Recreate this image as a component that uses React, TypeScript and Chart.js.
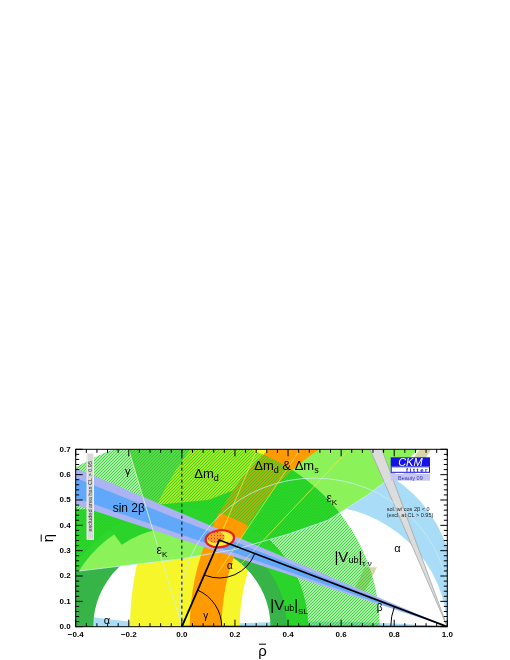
import React, { useEffect, useRef } from "react";
import { Chart, registerables } from "chart.js";

Chart.register(...registerables);

// ---------- axes ----------
const rhoRange = [-0.4, 1.0];
const etaRange = [0.0, 0.7];
const rhoTickStep = 0.2;
const etaTickStep = 0.1;

// ---------- unitarity triangle ----------
const triangleRho = [0.0, 0.141, 1.0, 0.0];
const triangleEta = [0.0, 0.342, 0.0, 0.0];
const zeroLineRho = [0.0, 0.0];
const zeroLineEta = [0.0, 0.7];

// ---------- global fit (centre rho, centre eta, half-width, half-height) ----------
const fitRegion = [0.143, 0.347, 0.058, 0.038];
const fitCore = [0.129, 0.352, 0.032, 0.021];

// ---------- alpha : circles through (0,0),(1,0) : centre rho, centre eta, radius ----------
const alphaOuterCircle = [0.5, 0.155, 0.5235];
const alphaInnerCircle = [0.5, -0.02, 0.5004];
const alphaNearZeroCircle = [0.5, 6.1, 6.1204];
const alphaNearPiCircle = [0.5, -6.2, 6.2201];
const alphaContourCircle = [0.5, 0.08, 0.5064];

// ---------- sin 2beta : angle beta (deg) seen from (1,0) ----------
const sin2betaWide = [18.96, 24.09];
const sin2betaNarrow = [19.94, 22.75];
const cos2betaNegative = [67.4, 70.6];

// ---------- gamma : polar angles (deg) from (0,0) ----------
const gammaWedge = [60, 106];
const gammaEdgeRays = [106];
const gammaRays = [48, 57.5, 68];

// ---------- |Vub| rings around (0,0) ----------
const vubSL = [0.334, 0.456];
const vubCombined = [0.395, 0.476];
const vubCombinedAngles = [0, 125];
const vubTauNu = [0.47, 0.745];
const epsKVubOverlap = [0.445, 0.745];

// ---------- Delta m rings around (1,0) ----------
const deltaMd = [0.782, 1.195];
const deltaMdMs = [0.85, 0.97];

// ---------- epsilon_K band ----------
const epsKLowerRho = [-0.45, -0.2, 0.0, 0.2, 0.4, 0.55, 0.7, 0.8, 0.89];
const epsKLowerEta = [0.212, 0.243, 0.268, 0.305, 0.365, 0.42, 0.52, 0.6, 0.7];
const epsKUpperRho = [0.33, 0.28, 0.2, 0.1, 0.0, -0.2, -0.45];
const epsKUpperEta = [0.7, 0.6, 0.54, 0.5, 0.49, 0.47, 0.46];

// ---------- pale patches ----------
const paleLowRho = [0.645, 0.69, 0.735, 0.69];
const paleLowEta = [0.14, 0.14, 0.235, 0.235];
const paleHighRho = [0.82, 0.865, 0.94, 0.895];
const paleHighEta = [0.58, 0.58, 0.7, 0.7];

const FONT = '"Liberation Sans", Arial, Helvetica, sans-serif';
const D2R = Math.PI / 180;

function fmt(v: number) {
  const r = Math.round(v * 10) / 10;
  if (r < 0) return "\u2212" + Math.abs(r).toFixed(1);
  return Math.abs(r).toFixed(1);
}

function makeHatch(fill: string, line: string) {
  const c = document.createElement("canvas");
  c.width = 3;
  c.height = 3;
  const g = c.getContext("2d")!;
  g.fillStyle = fill;
  g.fillRect(0, 0, 3, 3);
  g.strokeStyle = line;
  g.lineWidth = 0.9;
  g.beginPath();
  g.moveTo(0, 3);
  g.lineTo(3, 0);
  g.moveTo(-1, 1);
  g.lineTo(1, -1);
  g.moveTo(2, 4);
  g.lineTo(4, 2);
  g.stroke();
  return g.createPattern(c, "repeat")!;
}

function makeDots(fill: string, dot: string) {
  const c = document.createElement("canvas");
  c.width = 3;
  c.height = 3;
  const g = c.getContext("2d")!;
  g.fillStyle = fill;
  g.fillRect(0, 0, 3, 3);
  g.fillStyle = dot;
  g.fillRect(1, 1, 1, 1);
  return g.createPattern(c, "repeat")!;
}

function drawRich(ctx: CanvasRenderingContext2D, x: number, y: number, parts: any[], color = "#000") {
  let w = 0;
  for (const p of parts) {
    ctx.font = `${p[1]}px ${FONT}`;
    w += ctx.measureText(p[0]).width;
  }
  let cx = x - w / 2;
  const base = y + parts[0][1] * 0.36;
  ctx.fillStyle = color;
  ctx.textAlign = "left";
  ctx.textBaseline = "alphabetic";
  for (const p of parts) {
    ctx.font = `${p[1]}px ${FONT}`;
    ctx.fillText(p[0], cx, base + p[2]);
    cx += ctx.measureText(p[0]).width;
  }
}

const ckmPlugin = {
  id: "ckm",
  beforeDatasetsDraw(chart: any) {
    const { ctx, chartArea: a, scales } = chart;
    const X = (v: number) => scales.x.getPixelForValue(v);
    const Y = (v: number) => scales.y.getPixelForValue(v);
    const sx = X(1) - X(0);
    const sy = Y(0) - Y(1);

    const ellipse = (cx: number, cy: number, r: number) => {
      const x0 = X(cx), y0 = Y(cy);
      ctx.moveTo(x0 + r * sx, y0);
      ctx.ellipse(x0, y0, r * sx, r * sy, 0, 0, Math.PI * 2);
    };
    const ring = (cx: number, cy: number, r1: number, r2: number, style: any) => {
      ctx.beginPath();
      ellipse(cx, cy, r2);
      ellipse(cx, cy, r1);
      ctx.fillStyle = style;
      ctx.fill("evenodd");
    };
    const sector = (cx: number, cy: number, r1: number, r2: number, d1: number, d2: number, style: any) => {
      const x0 = X(cx), y0 = Y(cy);
      ctx.beginPath();
      ctx.ellipse(x0, y0, r2 * sx, r2 * sy, 0, -d1 * D2R, -d2 * D2R, true);
      ctx.ellipse(x0, y0, r1 * sx, r1 * sy, 0, -d2 * D2R, -d1 * D2R, false);
      ctx.closePath();
      ctx.fillStyle = style;
      ctx.fill();
    };
    const polyPath = (rs: number[], es: number[]) => {
      ctx.beginPath();
      rs.forEach((r, i) => (i ? ctx.lineTo(X(r), Y(es[i])) : ctx.moveTo(X(r), Y(es[i]))));
      ctx.closePath();
    };
    const poly = (rs: number[], es: number[], style: any) => {
      polyPath(rs, es);
      ctx.fillStyle = style;
      ctx.fill();
    };
    const wedge = (ox: number, oy: number, d1: number, d2: number, style: any) => {
      const L = 4;
      poly(
        [ox, ox + L * Math.cos(d1 * D2R), ox + L * Math.cos(d2 * D2R)],
        [oy, oy + L * Math.sin(d1 * D2R), oy + L * Math.sin(d2 * D2R)],
        style
      );
    };
    const ray = (ox: number, oy: number, d: number, r0: number, style: string, lw: number) => {
      const L = 4;
      ctx.beginPath();
      ctx.moveTo(X(ox + r0 * Math.cos(d * D2R)), Y(oy + r0 * Math.sin(d * D2R)));
      ctx.lineTo(X(ox + L * Math.cos(d * D2R)), Y(oy + L * Math.sin(d * D2R)));
      ctx.strokeStyle = style;
      ctx.lineWidth = lw;
      ctx.stroke();
    };

    ctx.save();
    ctx.fillStyle = "#ffffff";
    ctx.fillRect(a.left, a.top, a.right - a.left, a.bottom - a.top);
    ctx.beginPath();
    ctx.rect(a.left, a.top, a.right - a.left, a.bottom - a.top);
    ctx.clip();

    // pale patches
    poly(paleLowRho, paleLowEta, "#d8d5a6");
    poly(paleHighRho, paleHighEta, "#d8d5a6");

    // alpha
    const alphaBlue = "#a9dcf6";
    ring(alphaNearZeroCircle[0], alphaNearZeroCircle[1], alphaNearZeroCircle[2], 60, alphaBlue);
    ctx.beginPath();
    ellipse(alphaNearPiCircle[0], alphaNearPiCircle[1], alphaNearPiCircle[2]);
    ctx.fillStyle = alphaBlue;
    ctx.fill();
    ctx.beginPath();
    ellipse(alphaOuterCircle[0], alphaOuterCircle[1], alphaOuterCircle[2]);
    ellipse(alphaInnerCircle[0], alphaInnerCircle[1], alphaInnerCircle[2]);
    ctx.fillStyle = alphaBlue;
    ctx.fill("evenodd");

    // gamma wedge
    wedge(0, 0, gammaWedge[0], gammaWedge[1], "#7ada66");

    // Delta m_d
    ring(1, 0, deltaMd[0], deltaMd[1], "#f6f62a");

    // |Vub| SL
    ring(0, 0, vubSL[0], vubSL[1], "#36b447");

    // epsilon K
    const epsR = epsKLowerRho.concat(epsKUpperRho);
    const epsE = epsKLowerEta.concat(epsKUpperEta);
    poly(epsR, epsE, "#8cf25a");

    // epsilon K overlapping the |Vub| rings
    ctx.save();
    polyPath(epsR, epsE);
    ctx.clip();
    ring(0, 0, epsKVubOverlap[0], epsKVubOverlap[1], "#2ed62e");
    ctx.restore();

    // |Vub| combined overlap
    sector(0, 0, vubCombined[0], vubCombined[1], vubCombinedAngles[0], vubCombinedAngles[1], "#2ad42a");

    // Delta m_d & Delta m_s
    ring(1, 0, deltaMdMs[0], deltaMdMs[1], "#ff9a00");

    // |Vub| tau nu (hatched)
    ring(0, 0, vubTauNu[0], vubTauNu[1], makeHatch("rgba(45,215,40,0.42)", "rgba(30,200,30,0.75)"));

    // sin 2 beta
    wedge(1, 0, 180 - sin2betaWide[1], 180 - sin2betaWide[0], "#abb4f2");
    wedge(1, 0, 180 - sin2betaNarrow[1], 180 - sin2betaNarrow[0], "#62a8fa");

    // cos 2beta < 0 solution
    wedge(1, 0, 180 - cos2betaNegative[1], 180 - cos2betaNegative[0], "#dcdcdc");
    ray(1, 0, 180 - cos2betaNegative[1], 0, "#a6a6a6", 0.8);
    ray(1, 0, 180 - cos2betaNegative[0], 0, "#a6a6a6", 0.8);

    // thin contour lines
    ctx.beginPath();
    epsKLowerRho.forEach((r, i) => (i ? ctx.lineTo(X(r), Y(epsKLowerEta[i])) : ctx.moveTo(X(r), Y(epsKLowerEta[i]))));
    ctx.strokeStyle = "rgba(200,236,246,0.9)";
    ctx.lineWidth = 0.9;
    ctx.stroke();
    ctx.beginPath();
    ellipse(alphaContourCircle[0], alphaContourCircle[1], alphaContourCircle[2]);
    ctx.strokeStyle = "rgba(200,236,246,0.85)";
    ctx.lineWidth = 0.9;
    ctx.stroke();
    gammaEdgeRays.forEach((d) => ray(0, 0, d, 0, "rgba(215,242,200,0.95)", 0.9));
    gammaRays.forEach((d) => ray(0, 0, d, 0.25, "rgba(238,238,70,0.9)", 0.8));

    // fit region
    const fx = X(fitRegion[0]), fy = Y(fitRegion[1]);
    const frx = fitRegion[2] * sx, fry = fitRegion[3] * sy;
    ctx.beginPath();
    ctx.ellipse(fx, fy, frx, fry, -0.12, 0, Math.PI * 2);
    ctx.fillStyle = "#ea1c1c";
    ctx.fill();
    ctx.beginPath();
    ctx.ellipse(fx, fy, frx - 2.3, fry - 2.3, -0.12, 0, Math.PI * 2);
    ctx.fillStyle = "#ffe93a";
    ctx.fill();
    ctx.beginPath();
    ctx.ellipse(X(fitCore[0]), Y(fitCore[1]), fitCore[2] * sx, fitCore[3] * sy, -0.12, 0, Math.PI * 2);
    ctx.fillStyle = makeDots("#f7982c", "#e03a12");
    ctx.fill();

    ctx.restore();
  },
  afterDatasetsDraw(chart: any) {
    const { ctx, chartArea: a, scales } = chart;
    const X = (v: number) => scales.x.getPixelForValue(v);
    const Y = (v: number) => scales.y.getPixelForValue(v);
    const sx = X(1) - X(0);

    ctx.save();
    ctx.beginPath();
    ctx.rect(a.left, a.top, a.right - a.left, a.bottom - a.top);
    ctx.clip();

    // angle arcs
    const O = [X(triangleRho[0]), Y(triangleEta[0])];
    const A = [X(triangleRho[1]), Y(triangleEta[1])];
    const B = [X(triangleRho[2]), Y(triangleEta[2])];
    const ang = (p: number[], q: number[]) => Math.atan2(q[1] - p[1], q[0] - p[0]);
    ctx.strokeStyle = "#000";
    ctx.lineWidth = 1;
    ctx.beginPath();
    ctx.arc(O[0], O[1], 0.15 * sx, ang(O, A), 0);
    ctx.stroke();
    ctx.beginPath();
    ctx.arc(A[0], A[1], 0.143 * sx, ang(A, B), ang(A, O));
    ctx.stroke();
    ctx.beginPath();
    ctx.arc(B[0], B[1], 0.213 * sx, Math.PI, Math.PI * 2 + ang(B, A));
    ctx.stroke();

    // labels
    const labels: any[] = [
      [-0.204, 0.616, [["\u03b3", 11, 0]]],
      [0.093, 0.605, [["\u0394m", 13, 0], ["d", 9, 3]]],
      [0.394, 0.636, [["\u0394m", 13, 0], ["d", 9, 3], [" & \u0394m", 13, 0], ["s", 9, 3]]],
      [-0.2, 0.47, [["sin 2\u03b2", 12, 0]]],
      [-0.075, 0.303, [["\u03b5", 12, 0], ["K", 8, 3]]],
      [0.565, 0.51, [["\u03b5", 12, 0], ["K", 8, 3]]],
      [-0.282, 0.026, [["\u03b1", 11, 0]]],
      [0.812, 0.309, [["\u03b1", 11, 0]]],
      [0.181, 0.243, [["\u03b1", 10, 0]]],
      [0.09, 0.046, [["\u03b3", 10, 0]]],
      [0.745, 0.075, [["\u03b2", 10, 0]]],
      [0.404, 0.086, [["|V", 15, 0], ["ub", 9, 1], ["|", 15, 0], ["SL", 8, 4]]],
      [0.645, 0.275, [["|V", 15, 0], ["ub", 9, 1], ["|", 15, 0], ["\u03c4 \u03bd", 8, 4]]],
    ];
    for (const l of labels) drawRich(ctx, X(l[0]), Y(l[1]), l[2]);
    ctx.restore();

    ctx.save();
    // small note
    ctx.fillStyle = "#222";
    ctx.font = `5.5px ${FONT}`;
    ctx.textAlign = "left";
    ctx.textBaseline = "middle";
    ctx.fillText("sol. w/ cos 2\u03b2 < 0", a.right - 60.6, a.top + 60.4);
    ctx.fillText("(excl. at CL > 0.95)", a.right - 60.6, a.top + 66);

    // logo
    const L0 = a.right - 56.6, LW = 39.3;
    ctx.fillStyle = "#1414e6";
    ctx.fillRect(L0, a.top + 8, LW, 9);
    ctx.fillStyle = "#fff";
    ctx.font = `italic 11px ${FONT}`;
    ctx.textAlign = "center";
    ctx.textBaseline = "alphabetic";
    ctx.fillText("CKM", L0 + LW / 2, a.top + 16.6);
    ctx.fillStyle = "#fff";
    ctx.fillRect(L0, a.top + 17, LW, 6.5);
    ctx.strokeStyle = "#1414e6";
    ctx.lineWidth = 1;
    ctx.strokeRect(L0 + 0.5, a.top + 17.5, LW - 1, 5.5);
    ctx.fillStyle = "#1414e6";
    ctx.font = `bold 6px ${FONT}`;
    ctx.textAlign = "right";
    (ctx as any).letterSpacing = "1.6px";
    ctx.fillText("fitter", L0 + LW - 1, a.top + 22.6);
    (ctx as any).letterSpacing = "0px";
    ctx.fillStyle = "#c6c6f2";
    ctx.fillRect(L0, a.top + 24.7, LW, 6.7);
    ctx.fillStyle = "#3a3ac8";
    ctx.font = `5.5px ${FONT}`;
    ctx.textAlign = "center";
    ctx.fillText("Beauty 09", L0 + LW / 2, a.top + 30.2);

    // excluded area box
    ctx.fillStyle = "#d8d8d8";
    ctx.fillRect(a.left + 11, a.top + 3.7, 7.3, 86.7);
    ctx.strokeStyle = "#f0f0f0";
    ctx.strokeRect(a.left + 11.5, a.top + 4.2, 6.3, 85.7);
    ctx.save();
    ctx.translate(a.left + 14.8, a.top + 47);
    ctx.rotate(-Math.PI / 2);
    ctx.fillStyle = "#333";
    ctx.font = `5.5px ${FONT}`;
    ctx.textAlign = "center";
    ctx.textBaseline = "middle";
    ctx.fillText("excluded area has CL > 0.95", 0, 0);
    ctx.restore();

    // ticks
    ctx.strokeStyle = "#000";
    ctx.lineWidth = 1;
    ctx.beginPath();
    const nx = Math.round((rhoRange[1] - rhoRange[0]) / 0.04);
    for (let i = 0; i <= nx; i++) {
      const x = X(rhoRange[0] + i * 0.04);
      const len = i % 5 === 0 ? 7 : 3.5;
      ctx.moveTo(x, a.bottom);
      ctx.lineTo(x, a.bottom - len);
      ctx.moveTo(x, a.top);
      ctx.lineTo(x, a.top + len);
    }
    const ny = Math.round((etaRange[1] - etaRange[0]) / 0.02);
    for (let i = 0; i <= ny; i++) {
      const y = Y(etaRange[0] + i * 0.02);
      const len = i % 5 === 0 ? 7 : 3.5;
      ctx.moveTo(a.left, y);
      ctx.lineTo(a.left + len, y);
      ctx.moveTo(a.right, y);
      ctx.lineTo(a.right - len, y);
    }
    ctx.stroke();
    ctx.strokeRect(a.left, a.top, a.right - a.left, a.bottom - a.top);

    // axis titles
    ctx.fillStyle = "#000";
    ctx.font = `15px ${FONT}`;
    ctx.textAlign = "center";
    ctx.textBaseline = "alphabetic";
    const tx = (a.left + a.right) / 2 + 1, ty = a.bottom + 29;
    ctx.fillText("\u03c1", tx, ty);
    ctx.beginPath();
    ctx.moveTo(tx - 3.5, ty - 11.5);
    ctx.lineTo(tx + 3.5, ty - 11.5);
    ctx.stroke();
    ctx.save();
    ctx.translate(a.left - 23, (a.top + a.bottom) / 2);
    ctx.rotate(-Math.PI / 2);
    ctx.fillText("\u03b7", 0, 0);
    ctx.beginPath();
    ctx.moveTo(-3.5, -11.5);
    ctx.lineTo(3.5, -11.5);
    ctx.stroke();
    ctx.restore();
    ctx.restore();
  },
};

export default function App() {
  const ref = useRef<HTMLCanvasElement>(null);
  useEffect(() => {
    const triangle = triangleRho.map((r, i) => ({ x: r, y: triangleEta[i] }));
    const zeroLine = zeroLineRho.map((r, i) => ({ x: r, y: zeroLineEta[i] }));
    const tickFont = { size: 8, weight: "bold" as const, family: FONT };
    const chart = new Chart(ref.current!, {
      type: "scatter",
      data: {
        datasets: [
          {
            data: zeroLine,
            showLine: true,
            borderColor: "#000",
            borderWidth: 1,
            borderDash: [3, 3],
            pointRadius: 0,
            fill: false,
          },
          {
            data: triangle,
            showLine: true,
            borderColor: "#000",
            borderWidth: 1.8,
            pointRadius: 0,
            fill: false,
          },
        ],
      },
      options: {
        responsive: false,
        animation: false,
        devicePixelRatio: 1,
        events: [],
        layout: { padding: { left: 45.7, right: 62.7, top: 449.3, bottom: 13.3 } },
        plugins: { legend: { display: false }, tooltip: { enabled: false }, title: { display: false } },
        scales: {
          x: {
            type: "linear",
            min: rhoRange[0],
            max: rhoRange[1],
            afterFit: (s: any) => {
              s.height = 20;
            },
            grid: { display: false, drawTicks: false },
            border: { display: false },
            ticks: {
              stepSize: rhoTickStep,
              padding: 3,
              color: "#000",
              font: tickFont,
              maxRotation: 0,
              autoSkip: false,
              callback: (v: any) => fmt(Number(v)),
            },
          },
          y: {
            type: "linear",
            min: etaRange[0],
            max: etaRange[1],
            afterFit: (s: any) => {
              s.width = 30;
            },
            grid: { display: false, drawTicks: false },
            border: { display: false },
            ticks: {
              stepSize: etaTickStep,
              padding: 5,
              color: "#000",
              font: tickFont,
              autoSkip: false,
              callback: (v: any) => fmt(Number(v)),
            },
          },
        },
      },
      plugins: [ckmPlugin],
    } as any);
    return () => chart.destroy();
  }, []);
  return (
    <div style={{ position: "absolute", left: 0, top: 0, width: 510, height: 660, background: "#fff" }}>
      <canvas ref={ref} width={510} height={660} style={{ width: 510, height: 660, display: "block" }} />
    </div>
  );
}
